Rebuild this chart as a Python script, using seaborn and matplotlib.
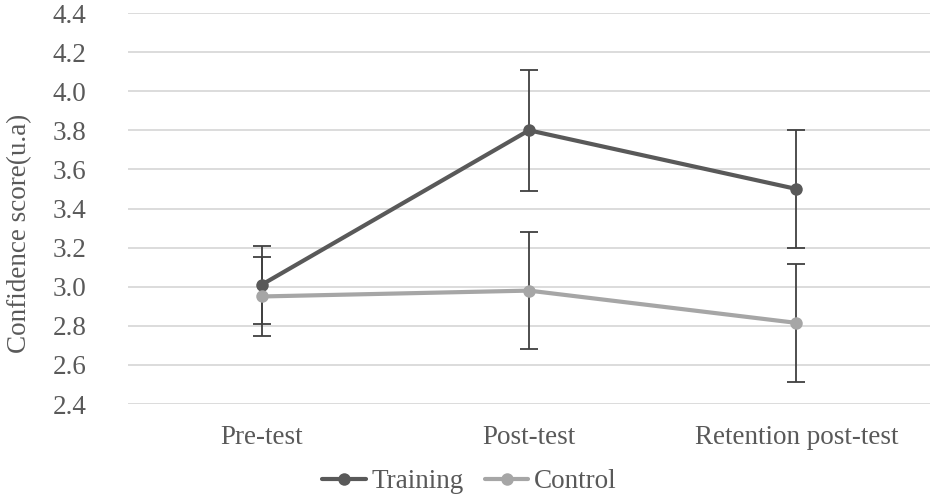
import matplotlib
matplotlib.use("Agg")
import matplotlib.pyplot as plt
import seaborn as sns
import pandas as pd

categories = ["Pre-test", "Post-test", "Retention post-test"]
training_mean = [3.01, 3.80, 3.50]
training_err = [0.20, 0.31, 0.30]
control_mean = [2.95, 2.98, 2.815]
control_err = [0.20, 0.30, 0.30]
y_ticks = [2.4, 2.6, 2.8, 3.0, 3.2, 3.4, 3.6, 3.8, 4.0, 4.2, 4.4]

sns.set_theme(style="white")
plt.rcParams["font.family"] = ["Liberation Serif", "DejaVu Serif"]

df = pd.DataFrame({
    "phase": categories * 2,
    "score": training_mean + control_mean,
    "group": ["Training"] * 3 + ["Control"] * 3,
})

fig = plt.figure(figsize=(9.33, 5.0), dpi=100)
ax = fig.add_axes([128 / 933, 1 - 404 / 500, (930 - 128) / 933, (404 - 13) / 500])

palette = {"Training": "#595959", "Control": "#A6A6A6"}
sns.lineplot(data=df, x="phase", y="score", hue="group", palette=palette,
             marker="o", markersize=9, markeredgewidth=0, linewidth=3,
             errorbar=None, sort=False, ax=ax, zorder=3)

xpos = list(range(len(categories)))
ax.errorbar(xpos, training_mean, yerr=training_err, fmt="none",
            ecolor="#404040", elinewidth=1.3, capsize=6.5, capthick=1.3, zorder=2)
ax.errorbar(xpos, control_mean, yerr=control_err, fmt="none",
            ecolor="#404040", elinewidth=1.3, capsize=6.5, capthick=1.3, zorder=2)

ax.set_xlim(-0.5, 2.5)
ax.set_ylim(2.4, 4.4)
ax.set_yticks(y_ticks)
ax.set_yticklabels([f"{t:.1f}" for t in y_ticks])
ax.yaxis.grid(True, color="#D9D9D9", linewidth=1.3)
ax.xaxis.grid(False)
ax.set_axisbelow(True)
for s in ax.spines.values():
    s.set_visible(False)

ax.tick_params(axis="y", length=0, pad=30, labelsize=19.5, labelcolor="#595959")
ax.tick_params(axis="x", length=0, pad=15, labelsize=19.5, labelcolor="#595959")
ax.set_xlabel("")
ax.set_ylabel("Confidence score(u.a)", fontsize=19.5, color="#595959")
ax.yaxis.set_label_coords(-0.12, 0.437)

handles, labels = ax.get_legend_handles_labels()
ax.legend(handles, labels, loc="center", bbox_to_anchor=(0.503, 0.036),
          bbox_transform=fig.transFigure, ncol=2, frameon=False,
          fontsize=19.5, handlelength=1.6, handletextpad=0.2,
          columnspacing=0.8, labelcolor="#595959")

fig.savefig("out.png", dpi=100)
